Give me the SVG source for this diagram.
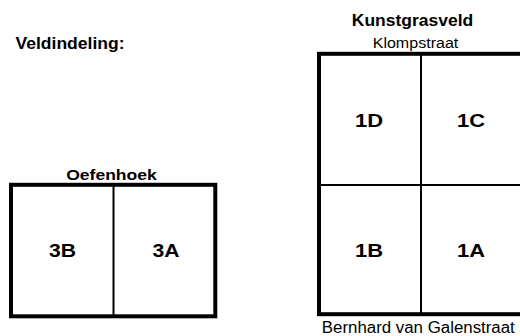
<svg xmlns="http://www.w3.org/2000/svg" width="520" height="336" viewBox="0 0 520 336">
<style>
.b{font-family:"Liberation Sans",Arial,sans-serif;font-weight:bold;fill:#000}
.r{font-family:"Liberation Sans",Arial,sans-serif;fill:#000}
.frame{fill:#fff;stroke:#000;stroke-width:4}
.div{stroke:#000;stroke-width:2}
</style>
<rect width="520" height="336" fill="#fff"/>
<text id="title" class="b" x="15.5" y="48.5" font-size="16.5" textLength="109" lengthAdjust="spacingAndGlyphs">Veldindeling:</text>
<g id="oefenhoek">
  <text class="b" x="111.5" y="180" font-size="15.5" text-anchor="middle" textLength="90.7" lengthAdjust="spacingAndGlyphs">Oefenhoek</text>
  <rect class="frame" x="11" y="184.8" width="204.3" height="131.5"/>
  <line class="div" x1="113.5" y1="184" x2="113.5" y2="316"/>
  <g id="f3B"><text class="b" x="62.5" y="257.3" font-size="17.5" text-anchor="middle" textLength="27" lengthAdjust="spacingAndGlyphs">3B</text></g>
  <g id="f3A"><text class="b" x="166" y="257.3" font-size="17.5" text-anchor="middle" textLength="27" lengthAdjust="spacingAndGlyphs">3A</text></g>
</g>
<g id="kunstgras">
  <text class="b" x="412.5" y="26" font-size="16.5" text-anchor="middle" textLength="121.5" lengthAdjust="spacingAndGlyphs">Kunstgrasveld</text>
  <text class="r" x="415.5" y="48" font-size="14" text-anchor="middle" textLength="85.6" lengthAdjust="spacingAndGlyphs">Klompstraat</text>
  <rect class="frame" x="319" y="53.8" width="205" height="260.4"/>
  <line class="div" x1="319" y1="185" x2="522" y2="185"/>
  <line class="div" x1="421" y1="54" x2="421" y2="314"/>
  <g id="f1D"><text class="b" x="369" y="127" font-size="17.5" text-anchor="middle" textLength="28" lengthAdjust="spacingAndGlyphs">1D</text></g>
  <g id="f1C"><text class="b" x="471" y="127" font-size="17.5" text-anchor="middle" textLength="28" lengthAdjust="spacingAndGlyphs">1C</text></g>
  <g id="f1B"><text class="b" x="369" y="257.3" font-size="17.5" text-anchor="middle" textLength="28" lengthAdjust="spacingAndGlyphs">1B</text></g>
  <g id="f1A"><text class="b" x="471" y="257.3" font-size="17.5" text-anchor="middle" textLength="28" lengthAdjust="spacingAndGlyphs">1A</text></g>
  <text class="r" x="418.3" y="333.3" font-size="16" text-anchor="middle" textLength="193" lengthAdjust="spacingAndGlyphs">Bernhard van Galenstraat</text>
</g>
<g id="connectors"/>
</svg>
